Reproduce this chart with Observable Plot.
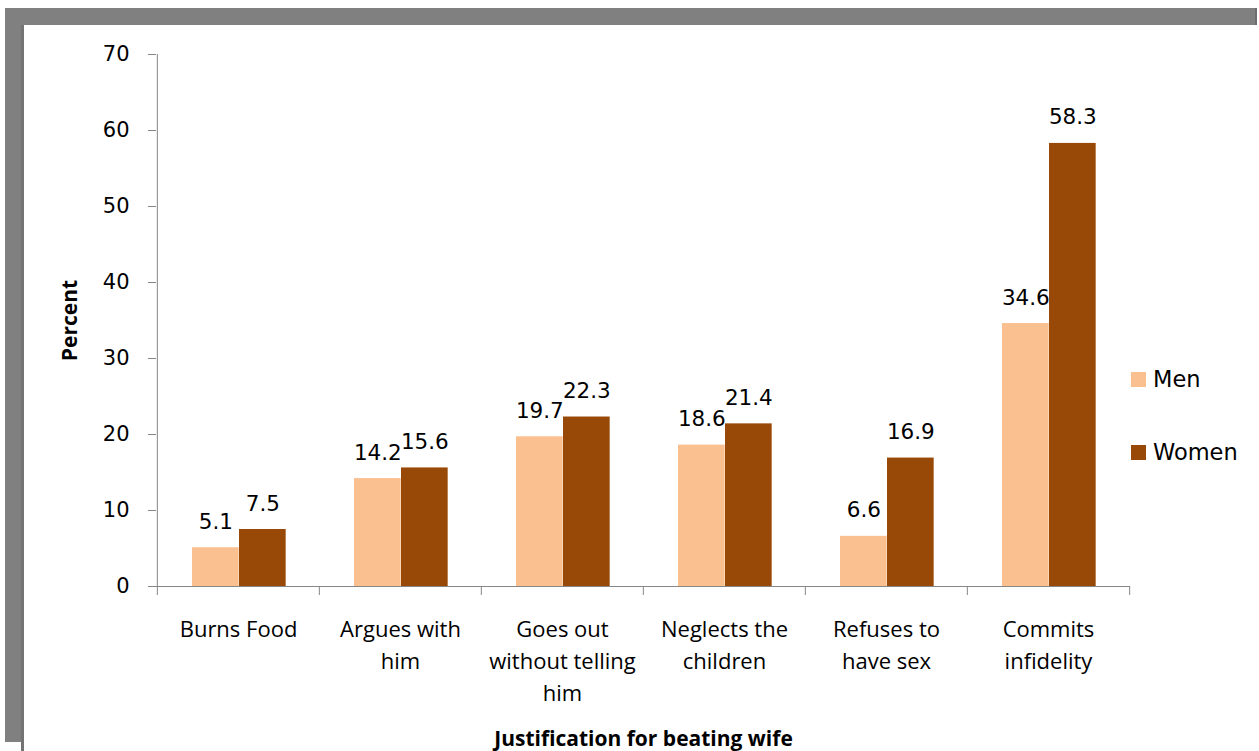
<!DOCTYPE html>
<html>
<head>
<meta charset="utf-8">
<script src="https://cdn.jsdelivr.net/npm/d3@7"></script>
<script src="https://cdn.jsdelivr.net/npm/@observablehq/plot@0.6"></script>
<style>
  html, body { margin: 0; padding: 0; background: #fff; }
  #wrap { position: relative; width: 1259px; height: 751px; overflow: hidden; background: #fff; }
  .bar { position: absolute; background: #808080; }
  #chart { position: absolute; left: 0; top: 0; }
  .leg { position: absolute; font-family: "DejaVu Sans", sans-serif; font-size: 22.5px; color: #000; display: flex; align-items: center; }
  .leg span.sw { display: inline-block; width: 15px; height: 15px; margin-right: 7px; }
</style>
</head>
<body>
<div id="wrap">
  <div class="bar" style="left:5px; top:8px; width:1250px; height:17px;"></div>
  <div class="bar" style="left:1255px; top:8px; width:2px; height:17px; background:#6e6e6e;"></div>
  <div class="bar" style="left:5px; top:8px; width:17px; height:734px;"></div>
  <div class="bar" style="left:21px; top:25px; width:3px; height:726px; background:#747474;"></div>
  <div id="chart"></div>
</div>
<script>
const categories = ["Burns Food", "Argues with him", "Goes out without telling him", "Neglects the children", "Refuses to have sex", "Commits infidelity"];
const categoryLabels = ["Burns Food", "Argues with\nhim", "Goes out\nwithout telling\nhim", "Neglects the\nchildren", "Refuses to\nhave sex", "Commits\ninfidelity"];
const series = ["Men", "Women"];
const men = [5.1, 14.2, 19.7, 18.6, 6.6, 34.6];
const women = [7.5, 15.6, 22.3, 21.4, 16.9, 58.3];
const yTicks = [0, 10, 20, 30, 40, 50, 60, 70];
const colors = ["#FAC090", "#984807"];
const yTitle = "Percent";
const xTitle = "Justification for beating wife";

const menData = categories.map((c, i) => ({category: c, series: "Men", value: men[i]}));
const womenData = categories.map((c, i) => ({category: c, series: "Women", value: women[i]}));
const labelOf = new Map(categories.map((c, i) => [c, categoryLabels[i]]));

const W = 1259, H = 751;
const mL = 156, mR = 129, mT = 54, mB = 165;
const band = (W - mL - mR) / categories.length;
const barW = 47, gapL = 35;
const axisColor = "#868686";
const numFont = "DejaVu Sans, sans-serif";
const txtFont = "Open Sans, sans-serif";

const chart = Plot.plot({
  width: W,
  height: H,
  marginLeft: mL,
  marginRight: mR,
  marginTop: mT,
  marginBottom: mB,
  style: {background: "transparent", overflow: "visible"},
  x: {type: "band", domain: categories, padding: 0, axis: null},
  y: {domain: [0, 70], axis: null},
  color: {domain: series, range: colors},
  marks: [
    Plot.barY(menData, {x: "category", y: "value", fill: "series", insetLeft: gapL, insetRight: band - gapL - barW}),
    Plot.barY(womenData, {x: "category", y: "value", fill: "series", insetLeft: gapL + barW, insetRight: band - gapL - 2 * barW}),
    Plot.text(menData, {x: "category", y: "value", text: d => d.value.toFixed(1), dx: gapL + barW / 2 - band / 2, dy: -19, lineAnchor: "bottom", fontFamily: numFont, fontSize: 21.5, fill: "#000"}),
    Plot.text(womenData, {x: "category", y: "value", text: d => d.value.toFixed(1), dx: gapL + 1.5 * barW - band / 2, dy: -19, lineAnchor: "bottom", fontFamily: numFont, fontSize: 21.5, fill: "#000"}),
    Plot.axisY({ticks: yTicks, tickSize: 8, tickPadding: 19, stroke: axisColor, fontFamily: numFont, fontSize: 21, color: "#000", label: null, tickFormat: d => String(d)}),
    Plot.ruleX([categories[0]], {dx: -band / 2, y1: 0, y2: 70, stroke: axisColor}),
    Plot.ruleY([0], {stroke: axisColor}),
    Plot.ruleX(categories, {dx: -band / 2, y1: 0, y2: 0, insetBottom: -9, stroke: axisColor}),
    Plot.ruleX([categories[categories.length - 1]], {dx: band / 2, y1: 0, y2: 0, insetBottom: -9, stroke: axisColor}),
    Plot.text(categories, {x: d => d, text: d => labelOf.get(d), frameAnchor: "bottom", lineAnchor: "top", dy: 28, lineHeight: 1.45, fontFamily: txtFont, fontSize: 22, fill: "#000"}),
    Plot.text([yTitle], {frameAnchor: "left", textAnchor: "middle", dx: -86, rotate: -90, fontFamily: txtFont, fontWeight: "bold", fontSize: 21, fill: "#000"}),
    Plot.text([xTitle], {frameAnchor: "bottom", dy: 159, fontFamily: txtFont, fontWeight: "bold", fontSize: 21, fill: "#000"})
  ]
});
document.getElementById("chart").appendChild(chart);

const wrap = document.getElementById("wrap");
const legendTops = [366, 439];
series.forEach((s, i) => {
  const div = document.createElement("div");
  div.className = "leg";
  div.style.left = "1131px";
  div.style.top = legendTops[i] + "px";
  const sw = document.createElement("span");
  sw.className = "sw";
  sw.style.background = colors[i];
  div.appendChild(sw);
  div.appendChild(document.createTextNode(s));
  wrap.appendChild(div);
});
</script>
</body>
</html>
